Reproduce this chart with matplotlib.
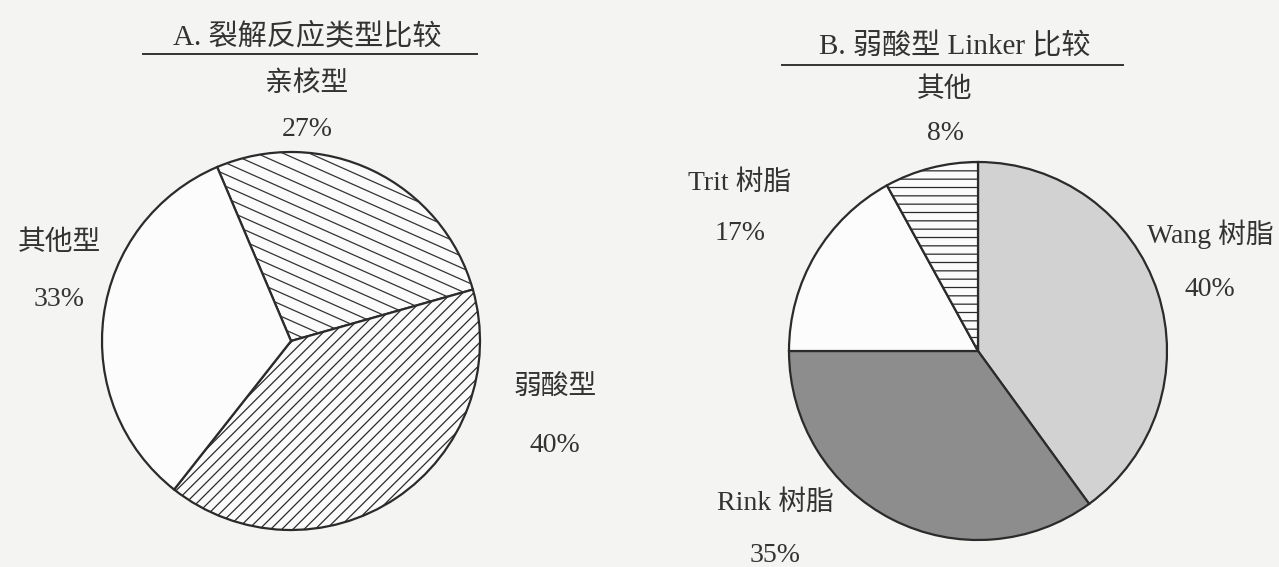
import numpy as np
import matplotlib.pyplot as plt

# A. cleavage type comparison
a_labels = ['亲核型', '弱酸型', '其他型']
a_values = [27, 40, 33]
# B. weak acid linker comparison
b_labels = ['Wang 树脂', 'Rink 树脂', 'Trit 树脂', '其他']
b_values = [40, 35, 17, 8]

plt.rcParams['font.family'] = ['Liberation Serif', 'Noto Sans CJK SC']
plt.rcParams['hatch.linewidth'] = 0.9
plt.rcParams['hatch.color'] = '#333333'

W, H = 1279, 567
bg = '#f4f4f2'
txt = '#333333'
edge = '#2b2b2b'

fig = plt.figure(figsize=(W / 100, H / 100), dpi=100, facecolor=bg)
ax = fig.add_axes([0, 0, 1, 1])
ax.set_facecolor(bg)

# left pie
ca, ra = (291, H - 341), 189
wa, _ = ax.pie(a_values, center=ca, radius=ra, startangle=113,
               counterclock=False, colors=['#fbfbfb', '#fbfbfb', '#fcfcfc'],
               wedgeprops=dict(edgecolor=edge, linewidth=1.6))
wa[1].set_hatch('///')

# shallow diagonal hatch for the first wedge, clipped to it
ang = np.deg2rad(24)
step = 10.7 / np.cos(ang)
xs = np.array([ca[0] - ra, ca[0] + ra])
for c in np.arange(-2 * ra, 2 * ra, step):
    ln, = ax.plot(xs, ca[1] + c - np.tan(ang) * (xs - ca[0]), color='#333333', lw=0.9)
    ln.set_clip_path(wa[0])

# right pie
wb, _ = ax.pie(b_values, center=(978, H - 351), radius=189, startangle=90,
               counterclock=False, colors=['#d2d2d2', '#8d8d8d', '#fcfcfc', '#fbfbfb'],
               wedgeprops=dict(edgecolor=edge, linewidth=1.6))
wb[3].set_hatch('--')

ax.set_xlim(0, W)
ax.set_ylim(0, H)
ax.set_aspect('equal')
ax.axis('off')

# label positions (pixel coords from top)
a_pos = [(307, 84, 129), (555, 387, 445), (59, 243, 299)]
b_pos = [(1210, 234, 289), (775, 503, 556), (740, 183, 233), (945, 90, 133)]

for lab, v, (x, y1, y2) in zip(a_labels, a_values, a_pos):
    ax.text(x, H - y1, lab, ha='center', va='center', fontsize=20, color=txt)
    ax.text(x, H - y2, f'{v}%', ha='center', va='center', fontsize=20, color=txt)
for lab, v, (x, y1, y2) in zip(b_labels, b_values, b_pos):
    ax.text(x, H - y1, lab, ha='center', va='center', fontsize=20, color=txt)
    ax.text(x, H - y2, f'{v}%', ha='center', va='center', fontsize=20, color=txt)

# titles with underline
ax.text(307, H - 37, 'A. 裂解反应类型比较', ha='center', va='center', fontsize=21, color=txt)
ax.plot([143, 477], [H - 54, H - 54], color=txt, lw=1.4)
ax.text(955, H - 47, 'B. 弱酸型 Linker 比较', ha='center', va='center', fontsize=21, color=txt)
ax.plot([782, 1123], [H - 65, H - 65], color=txt, lw=1.4)

fig.savefig('out.png', dpi=100, facecolor=bg)
